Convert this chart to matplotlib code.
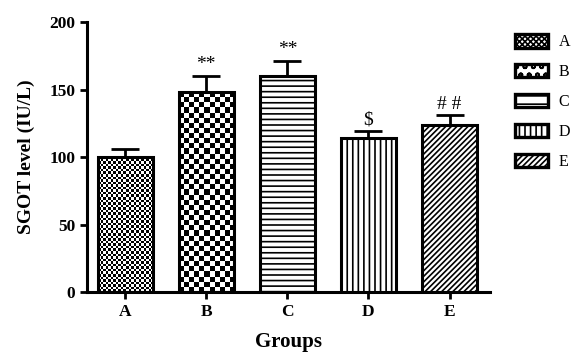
import numpy as np
import matplotlib
matplotlib.use('Agg')
import matplotlib.pyplot as plt
from matplotlib.patches import Patch

# --- Data ---
groups = ['A', 'B', 'C', 'D', 'E']
sgot = [100, 148, 160, 114, 124]
sem = [6, 12, 11, 5, 7]
marks = ['', '**', '**', '$', '# #']
hatches = ['xxxxxx', 'xx', '---', '|||', '//////']

plt.rcParams['font.family'] = ['Liberation Serif', 'DejaVu Serif']
plt.rcParams['hatch.linewidth'] = 1.2

fig = plt.figure(figsize=(5.76, 3.55), dpi=100)
ax = fig.add_axes([0.151, 0.177, 0.700, 0.761])

x = np.arange(len(groups))
width = 0.68

bars = ax.bar(x, sgot, width=width, color='white', edgecolor='black',
              linewidth=2.2, zorder=3)
for b, h, g in zip(bars, hatches, groups):
    if g in ('A', 'B'):
        # checkerboard fill clipped to the bar
        n = 22 if g == 'A' else 11
        x0, w = b.get_x(), b.get_width()
        hgt = b.get_height()
        ny = int(n * (hgt * 1.345) / 55.0)
        yy, xx = np.indices((ny, n))
        checker = ((xx + yy) % 2).astype(float)
        im = ax.imshow(checker, cmap='gray', vmin=0, vmax=1,
                       extent=[x0, x0 + w, 0, hgt], aspect='auto',
                       interpolation='nearest', zorder=2)
        im.set_clip_path(b)
        b.set_facecolor('none')
    else:
        b.set_hatch(h)

ax.errorbar(x, sgot, yerr=[np.zeros(len(sem)), sem], fmt='none',
            ecolor='black', elinewidth=2, capsize=10, capthick=2, zorder=4)

for xi, v, e, m in zip(x, sgot, sem, marks):
    if m:
        ax.text(xi, v + e + 2, m, ha='center', va='bottom', fontsize=14)

ax.set_xlim(-0.47, 4.5)
ax.set_ylim(0, 200)
ax.set_yticks([0, 50, 100, 150, 200])
ax.set_xticks(x)
ax.set_xticklabels(groups)
for lab in ax.get_xticklabels() + ax.get_yticklabels():
    lab.set_fontweight('bold')
    lab.set_fontsize(12.5)
ax.tick_params(width=2, length=5)

for s in ['top', 'right']:
    ax.spines[s].set_visible(False)
for s in ['left', 'bottom']:
    ax.spines[s].set_linewidth(2.2)

ax.set_ylabel('SGOT level (IU/L)', fontsize=14, fontweight='bold', labelpad=10)
ax.set_xlabel('Groups', fontsize=15, fontweight='bold', labelpad=9)

leg_hatch = ['xxxxxx', 'oo', '--', '|||', '//////']
handles = [Patch(facecolor='white', edgecolor='black', linewidth=2.4,
                 hatch=h, label=g) for h, g in zip(leg_hatch, groups)]
fig.legend(handles=handles, loc='upper left', bbox_to_anchor=(0.894, 0.905),
           bbox_transform=fig.transFigure, frameon=False, fontsize=11.5,
           handlelength=2.05, handleheight=0.95, labelspacing=0.85,
           handletextpad=0.7, borderpad=0, borderaxespad=0)

fig.savefig('out.png', dpi=100)
